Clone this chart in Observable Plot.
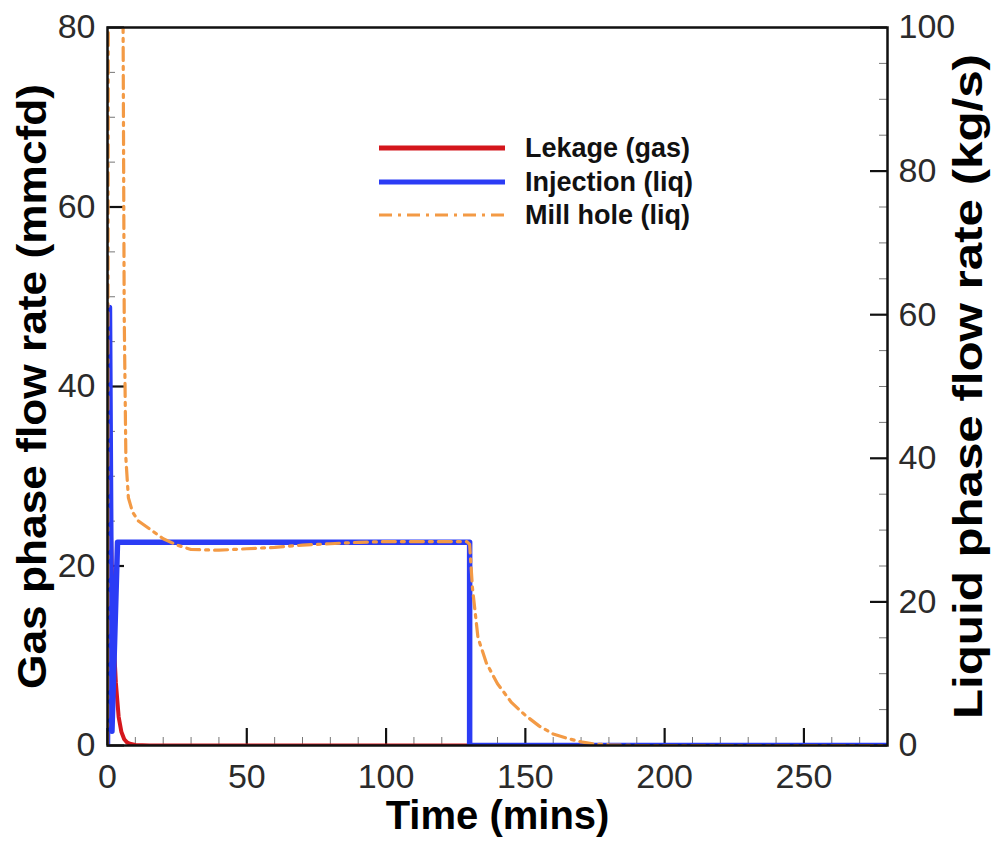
<!DOCTYPE html>
<html><head><meta charset="utf-8">
<script src="https://cdn.jsdelivr.net/npm/d3@7"></script>
<script src="https://cdn.jsdelivr.net/npm/@observablehq/plot@0.6"></script>
<style>
body{margin:0;background:#fff;}
#wrap{position:relative;width:994px;height:842px;font-family:"Liberation Sans",Arial,sans-serif;}
#legend{position:absolute;left:0;top:0;pointer-events:none;}
</style></head><body><div id="wrap"></div>
<script>
// ---- data ----
// Gas leakage (mmcfd, left axis)
const leakTime = [0, 0.5, 1, 1.5, 2, 2.5, 3, 4, 5, 6, 7, 8, 10, 15, 130, 280];
const leakGas  = [48, 36, 27, 20, 14, 10, 7, 3.2, 1.5, 0.7, 0.35, 0.2, 0.05, 0, 0, 0];
// Injection (kg/s, right axis)
const injTime = [0, 0.7, 1.6, 3.6, 130, 130, 280];
const injLiq  = [0, 61, 2, 28.3, 28.3, 0, 0];
// Mill hole (kg/s, right axis)
const millTime = [0, 0.3, 5.5, 6, 6.6, 7.5, 9, 11, 15, 20, 25, 30, 40, 50, 60, 70, 80, 90, 100, 110, 120, 129, 130, 131, 133, 136, 140, 145, 150, 155, 160, 165, 170, 175, 180, 190, 280];
const millLiq  = [0, 110, 110, 60, 40, 34.5, 32.5, 31.3, 30.2, 28.8, 27.9, 27.3, 27.2, 27.4, 27.6, 27.9, 28.1, 28.3, 28.4, 28.4, 28.4, 28.4, 28, 22, 15, 11.5, 8.6, 6, 4.2, 2.7, 1.6, 1, 0.5, 0.2, 0.1, 0, 0];

const xMajor = [0, 50, 100, 150, 200, 250];
const xMinor = [10, 20, 30, 40, 60, 70, 80, 90, 110, 120, 130, 140, 160, 170, 180, 190, 210, 220, 230, 240, 260, 270];
const yLeftMajor = [0, 20, 40, 60, 80];
const yLeftMinor = [5, 10, 15, 25, 30, 35, 45, 50, 55, 65, 70, 75];
const yRightMajor = [0, 20, 40, 60, 80, 100];
const yRightMinor = [5, 10, 15, 25, 30, 35, 45, 50, 55, 65, 70, 75, 85, 90, 95];

const seriesNames = ["Lekage (gas)", "Injection (liq)", "Mill hole (liq)"];
const seriesColors = ["#d4161c", "#2b3cf5", "#f39a45"];

const xLabel = "Time (mins)";
const yLeftLabel = "Gas phase flow rate (mmcfd)";
const yRightLabel = "Liquid phase flow rate (kg/s)";

// ---- build ----
const W = 994, H = 842, mL = 107, mR = 107, mT = 27, mB = 97;
const fw = W - mL - mR, fh = H - mT - mB;
const k = 80 / 100; // right axis (kg/s) -> left axis units

const leak = leakTime.map((t, i) => ({t, v: leakGas[i]}));
const inj = injTime.map((t, i) => ({t, v: injLiq[i] * k}));
const mill = millTime.map((t, i) => ({t, v: millLiq[i] * k}));

const font = '"Liberation Sans", Arial, sans-serif';
const major = 17, minor = 8;

const chart = Plot.plot({
  width: W, height: H,
  marginLeft: mL, marginRight: mR, marginTop: mT, marginBottom: mB,
  style: {fontFamily: font, background: "#fff", overflow: "visible"},
  x: {domain: [0, 280], axis: null},
  y: {domain: [0, 80], axis: null},
  marks: [
    // minor ticks
    Plot.tickX(xMinor, {x: d => d, insetTop: fh - minor, stroke: "#777", strokeWidth: 1}),
    Plot.tickY(yLeftMinor, {y: d => d, insetRight: fw - minor, stroke: "#777", strokeWidth: 1}),
    Plot.tickY(yRightMinor, {y: d => d * k, insetLeft: fw - minor, stroke: "#777", strokeWidth: 1}),
    // major ticks
    Plot.tickX(xMajor, {x: d => d, insetTop: fh - major, stroke: "#111", strokeWidth: 2.2}),
    Plot.tickY(yLeftMajor, {y: d => d, insetRight: fw - major, stroke: "#111", strokeWidth: 2.2}),
    Plot.tickY(yRightMajor, {y: d => d * k, insetLeft: fw - major, stroke: "#111", strokeWidth: 2.2}),
    // series
    Plot.line(leak, {x: "t", y: "v", stroke: seriesColors[0], strokeWidth: 4, clip: true}),
    Plot.line(inj, {x: "t", y: "v", stroke: seriesColors[1], strokeWidth: 5.5, clip: true}),
    Plot.line(mill, {x: "t", y: "v", stroke: seriesColors[2], strokeWidth: 3.2, strokeDasharray: "13,6,3,6", clip: true}),
    Plot.frame({stroke: "#111", strokeWidth: 2.5}),
    // tick labels
    Plot.text(xMajor, {x: d => d, frameAnchor: "bottom", dy: 32, text: d => String(d), fontSize: 34, fill: "#2b2b2b", lineAnchor: "middle", textAnchor: "middle"}),
    Plot.text(yLeftMajor, {y: d => d, frameAnchor: "left", dx: -12, textAnchor: "end", text: d => String(d), fontSize: 34, fill: "#2b2b2b", lineAnchor: "middle"}),
    Plot.text(yRightMajor, {y: d => d * k, frameAnchor: "right", dx: 11, textAnchor: "start", text: d => String(d), fontSize: 34, fill: "#2b2b2b", lineAnchor: "middle"}),
    // axis titles
    Plot.text([xLabel], {frameAnchor: "bottom", dy: 71, text: d => d, fontSize: 40, fontWeight: "bold", fill: "#000", lineAnchor: "middle", textAnchor: "middle"}),
    Plot.text([yLeftLabel], {frameAnchor: "left", dx: -74, rotate: -90, text: d => d, fontSize: 40, fontWeight: "bold", fill: "#000", lineAnchor: "middle", textAnchor: "middle"}),
    Plot.text([yRightLabel], {frameAnchor: "right", dx: 82, rotate: -90, text: d => d, fontSize: 40, fontWeight: "bold", fill: "#000", lineAnchor: "middle", textAnchor: "middle"})
  ]
});
// fit rotated titles to the length they have in the reference
chart.querySelectorAll("text").forEach(t => {
  if (t.textContent === yLeftLabel) { t.setAttribute("textLength", 605); t.setAttribute("lengthAdjust", "spacingAndGlyphs"); }
  if (t.textContent === yRightLabel) { t.setAttribute("textLength", 665); t.setAttribute("lengthAdjust", "spacingAndGlyphs"); }
});
const wrap = document.getElementById("wrap");
wrap.appendChild(chart);

// ---- legend ----
const ns = "http://www.w3.org/2000/svg";
const lg = document.createElementNS(ns, "svg");
lg.setAttribute("id", "legend");
lg.setAttribute("width", W); lg.setAttribute("height", 260);
const rowsY = [148, 182, 215];
const widths = [5, 5, 3.2];
seriesNames.forEach((name, i) => {
  const ln = document.createElementNS(ns, "line");
  ln.setAttribute("x1", 379); ln.setAttribute("x2", 505);
  ln.setAttribute("y1", rowsY[i]); ln.setAttribute("y2", rowsY[i]);
  ln.setAttribute("stroke", seriesColors[i]);
  ln.setAttribute("stroke-width", widths[i]);
  if (i === 2) ln.setAttribute("stroke-dasharray", "13,6,3,6");
  lg.appendChild(ln);
  const tx = document.createElementNS(ns, "text");
  tx.setAttribute("x", 525); tx.setAttribute("y", rowsY[i]);
  tx.setAttribute("dy", "0.35em");
  tx.setAttribute("font-family", font);
  tx.setAttribute("font-weight", "bold");
  tx.setAttribute("font-size", 27);
  tx.setAttribute("fill", "#111");
  tx.textContent = name;
  lg.appendChild(tx);
});
wrap.appendChild(lg);
</script></body></html>
